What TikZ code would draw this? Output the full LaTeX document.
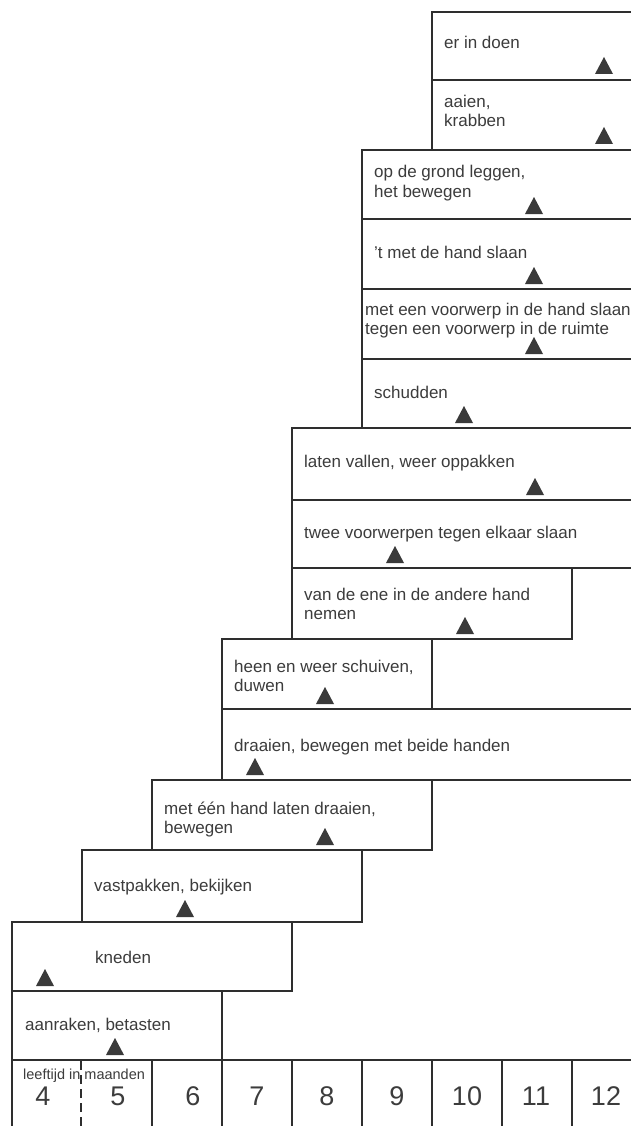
\documentclass[tikz,border=0pt]{standalone}
\usepackage{fontspec}
\setmainfont{Liberation Sans}
\definecolor{linecol}{HTML}{2E2E2E}
\definecolor{txtcol}{HTML}{3C3C3C}
\definecolor{tricol}{HTML}{3A3A3A}
\newcommand{\mytri}[2]{\fill[tricol] (#1-9,#2) -- (#1+9,#2) -- (#1,#2-17) -- cycle;}
\tikzset{
  frame/.style={draw=linecol, line width=1.8pt},
  lbl/.style={anchor=base west, inner sep=0pt, text=txtcol, font=\fontsize{17}{20}\selectfont},
  num/.style={anchor=base, inner sep=0pt, text=txtcol, font=\fontsize{27}{30}\selectfont},
  small/.style={anchor=base west, inner sep=0pt, text=txtcol, font=\fontsize{14.5}{16}\selectfont},
}
\begin{document}
\begin{tikzpicture}[x=1pt,y=-1pt]
\useasboundingbox (0,0) rectangle (631,1126);
\fill[white] (0,0) rectangle (631,1126);
\clip (0,0) rectangle (631,1126);
% boxes
\draw[frame] (432,12) rectangle (640,80);
\draw[frame] (432,80) rectangle (640,150);
\draw[frame] (362,150) rectangle (640,219);
\draw[frame] (362,219) rectangle (640,289);
\draw[frame] (362,289) rectangle (640,359);
\draw[frame] (362,359) rectangle (640,428);
\draw[frame] (292,428) rectangle (640,500);
\draw[frame] (292,500) rectangle (640,568);
\draw[frame] (292,568) rectangle (572,639);
\draw[frame] (222,639) rectangle (432,709);
\draw[frame] (222,709) rectangle (640,780);
\draw[frame] (152,780) rectangle (432,850);
\draw[frame] (82,850) rectangle (362,922);
\draw[frame] (12,922) rectangle (292,991);
\draw[frame] (12,991) rectangle (222,1060);
% axis row
\draw[frame] (12,1060) -- (640,1060);
\foreach \xx in {12,152,222,292,362,432,502,572}
  \draw[frame] (\xx,1060) -- (\xx,1130);
\draw[draw=linecol, line width=1.2pt, dash pattern=on 9pt off 5pt] (81,1061) -- (81,1130);
% labels
\node[lbl] (t0) at (444,49) {er in doen};
\node[lbl] (t1a) at (444,108) {aaien,};
\node[lbl] (t1b) at (444,127) {krabben};
\node[lbl] (t2a) at (374,178) {op de grond leggen,};
\node[lbl] (t2b) at (374,197) {het bewegen};
\node[lbl] (t3) at (374,258) {'t met de hand slaan};
\node[lbl] (t4a) at (365,315) {met een voorwerp in de hand slaan};
\node[lbl] (t4b) at (365,334) {tegen een voorwerp in de ruimte};
\node[lbl] (t5) at (374,398) {schudden};
\node[lbl] (t6) at (304,467) {laten vallen, weer oppakken};
\node[lbl] (t7) at (304,538) {twee voorwerpen tegen elkaar slaan};
\node[lbl] (t8a) at (304,600) {van de ene in de andere hand};
\node[lbl] (t8b) at (304,619) {nemen};
\node[lbl] (t9a) at (234,672) {heen en weer schuiven,};
\node[lbl] (t9b) at (234,691) {duwen};
\node[lbl] (t10) at (234,751) {draaien, bewegen met beide handen};
\node[lbl] (t11a) at (164,814) {met één hand laten draaien,};
\node[lbl] (t11b) at (164,833) {bewegen};
\node[lbl] (t12) at (94,891) {vastpakken, bekijken};
\node[lbl] (t13) at (95,963) {kneden};
\node[lbl] (t14) at (25,1030) {aanraken, betasten};
% triangles
\mytri{604}{74}
\mytri{604}{144}
\mytri{534}{214}
\mytri{534}{284}
\mytri{534}{354}
\mytri{464}{423}
\mytri{535}{495}
\mytri{395}{563}
\mytri{465}{634}
\mytri{325}{704}
\mytri{255}{775}
\mytri{325}{845}
\mytri{185}{917}
\mytri{45}{986}
\mytri{115}{1055}
% axis labels
\node[small] (ax) at (23,1079) {leeftijd in maanden};
\node[num] (n4) at (43,1105) {4};
\node[num] (n5) at (118,1105) {5};
\node[num] (n6) at (193,1105) {6};
\node[num] (n7) at (257,1105) {7};
\node[num] (n8) at (327,1105) {8};
\node[num] (n9) at (397,1105) {9};
\node[num] (n10) at (467,1105) {10};
\node[num] (n11) at (536,1105) {11};
\node[num] (n12) at (606,1105) {12};
\end{tikzpicture}
\end{document}
